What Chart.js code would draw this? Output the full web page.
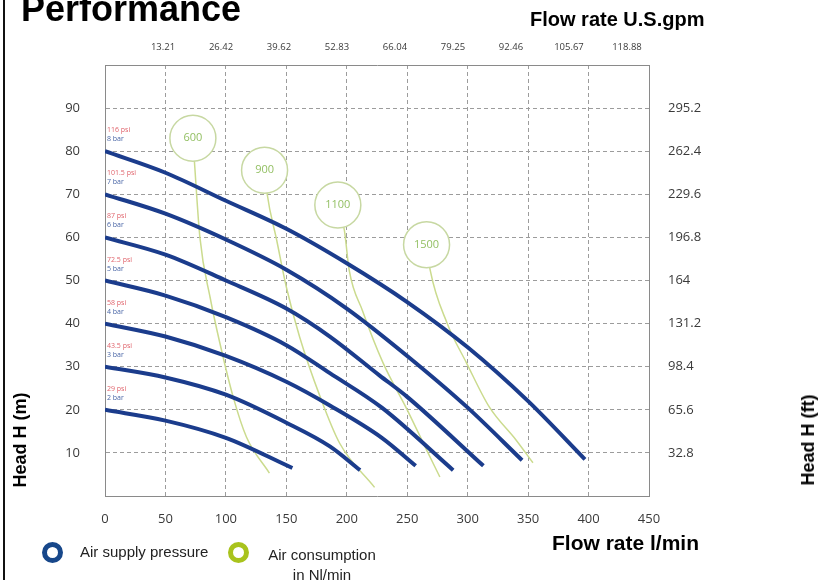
<!DOCTYPE html>
<html><head><meta charset="utf-8">
<script src="https://cdn.jsdelivr.net/npm/chart.js@4.4.1/dist/chart.umd.min.js"></script>
<style>
html,body{margin:0;padding:0;background:#fff;}
body{width:826px;height:580px;overflow:hidden;position:relative;font-family:'Liberation Sans',Arial,sans-serif;}
#c{position:absolute;left:0;top:0;}
.t{position:absolute;white-space:nowrap;color:#000;}
.rot{transform:translate(-50%,-50%) rotate(-90deg);}
.ring{position:absolute;box-sizing:border-box;width:21px;height:21px;border-radius:50%;border-style:solid;border-width:5px;}
</style></head><body>
<canvas id="c" width="826" height="580"></canvas>
<div style="position:absolute;left:3px;top:0;width:2px;height:580px;background:#111"></div>
<div class="t" style="left:21px;top:-9px;font:bold 36px/36px 'Liberation Sans',Arial,sans-serif;">Performance</div>
<div class="t" style="left:530px;top:9px;font:bold 20px/20px 'Liberation Sans',Arial,sans-serif;">Flow rate U.S.gpm</div>
<div class="t" style="left:552px;top:532px;font:bold 21px/21px 'Liberation Sans',Arial,sans-serif;">Flow rate l/min</div>
<div class="t rot" style="left:20px;top:440px;font:bold 18px/18px 'Liberation Sans',Arial,sans-serif;">Head H (m)</div>
<div class="t rot" style="left:808px;top:440px;font:bold 18px/18px 'Liberation Sans',Arial,sans-serif;">Head H (ft)</div>
<div class="ring" style="left:42px;top:542px;border-color:#17478a;"></div>
<div class="t" style="left:80px;top:544px;font:15px/15px 'Liberation Sans',Arial,sans-serif;color:#222;">Air supply pressure</div>
<div class="ring" style="left:228px;top:542px;border-color:#a9c31d;"></div>
<div class="t" style="left:252px;width:140px;text-align:center;top:545px;font:15px/20px 'Liberation Sans',Arial,sans-serif;color:#222;">Air consumption<br>in Nl/min</div>
<script>
// ---- tick labels ----
const flowTicks = [0, 50, 100, 150, 200, 250, 300, 350, 400, 450];          // l/min
const gpmTicks = [13.21, 26.42, 39.62, 52.83, 66.04, 79.25, 92.46, 105.67, 118.88]; // U.S. gpm
const headTicks = [10, 20, 30, 40, 50, 60, 70, 80, 90];                     // m
const feetTicks = [32.8, 65.6, 98.4, 131.2, 164, 196.8, 229.6, 262.4, 295.2]; // ft

// ---- pressure curves (flow l/min, head m) ----
const bar8Flow = [0, 50, 100, 150, 200, 250, 300, 350, 397];
const bar8Head = [80, 75, 68.5, 62, 54, 45, 34.5, 22, 8.5];
const bar7Flow = [0, 50, 100, 150, 200, 250, 300, 345];
const bar7Head = [70, 65.5, 59.5, 52.5, 43.5, 32.5, 20.5, 8.3];
const bar6Flow = [0, 50, 100, 150, 186, 227, 250, 313];
const bar6Head = [60, 56, 50, 43.5, 37, 28, 23, 7];
const bar5Flow = [0, 50, 100, 150, 186, 229, 288];
const bar5Head = [50, 46.5, 41.5, 35, 28.5, 20.5, 6];
const bar4Flow = [0, 50, 100, 150, 186, 229, 257];
const bar4Head = [40, 37, 32.5, 26.5, 21, 13.5, 7];
const bar3Flow = [0, 50, 100, 150, 186, 211];
const bar3Head = [30, 27.5, 23.5, 17, 11.5, 6];
const bar2Flow = [0, 50, 100, 155];
const bar2Head = [20, 17.5, 13.5, 6.5];
const psiLabels = ['116 psi', '101.5 psi', '87 psi', '72.5 psi', '58 psi', '43.5 psi', '29 psi'];
const barLabels = ['8 bar', '7 bar', '6 bar', '5 bar', '4 bar', '3 bar', '2 bar'];

// ---- air consumption lines (Nl/min) ----
const air600Flow = [72.7, 74, 78.5, 87, 95, 106, 117, 136];
const air600Head = [83, 77.5, 60, 46, 35.5, 23, 13.7, 5.3];
const air900Flow = [132, 134, 142, 150, 161, 178, 194, 223];
const air900Head = [75.6, 70.3, 59.4, 48.5, 36.9, 23, 12.3, 2];
const air1100Flow = [192.6, 198, 202, 213, 230, 250, 266, 277];
const air1100Head = [67.5, 61.7, 52.4, 43, 30.9, 20, 10.7, 4.4];
const air1500Flow = [266, 269, 283, 299, 318, 340, 354];
const air1500Head = [58.3, 52.4, 40.1, 30.9, 20.6, 13, 7.7];
const circleFlow = [72.7, 132, 192.6, 266];
const circleHead = [83, 75.6, 67.5, 58.3];
const circleLabels = ['600', '900', '1100', '1500'];

const pts = (xs, ys) => xs.map((v, i) => ({x: v, y: ys[i]}));
const pressure = [[bar8Flow, bar8Head], [bar7Flow, bar7Head], [bar6Flow, bar6Head], [bar5Flow, bar5Head],
                  [bar4Flow, bar4Head], [bar3Flow, bar3Head], [bar2Flow, bar2Head]];
const air = [[air600Flow, air600Head], [air900Flow, air900Head], [air1100Flow, air1100Head], [air1500Flow, air1500Head]];

// Chart.js paints lower "order" on top: circles (0) > pressure (1) > air (2)
const datasets = [];
datasets.push({
  data: pts(circleFlow, circleHead), showLine: false, pointRadius: 23, order: 0,
  pointBackgroundColor: '#ffffff', pointBorderColor: '#c7d8a2', pointBorderWidth: 1.5
});
pressure.forEach(([f, h]) => datasets.push({
  data: pts(f, h), borderColor: '#1b3c8c', borderWidth: 4, pointRadius: 0, order: 1,
  tension: 0.4, cubicInterpolationMode: 'monotone', fill: false, borderCapStyle: 'butt'
}));
air.forEach(([f, h]) => datasets.push({
  data: pts(f, h), borderColor: '#cbdb8e', borderWidth: 1.5, pointRadius: 0, order: 2,
  tension: 0.4, cubicInterpolationMode: 'monotone', fill: false
}));

const annot = {
  id: 'annot',
  afterDatasetsDraw(chart) {
    const {ctx, scales: {x, y}} = chart;
    ctx.save();
    ctx.textBaseline = 'middle';
    ctx.textAlign = 'left';
    ctx.font = "7px 'Open Sans', sans-serif";
    pressure.forEach(([f, h], i) => {
      const px = x.getPixelForValue(f[0]) + 2;
      const py = y.getPixelForValue(h[0]);
      ctx.fillStyle = '#e0646c';
      ctx.fillText(psiLabels[i], px, py - 21);
      ctx.fillStyle = '#4a66a6';
      ctx.fillText(barLabels[i], px, py - 12);
    });
    ctx.textAlign = 'center';
    ctx.font = "11px 'Open Sans', sans-serif";
    ctx.fillStyle = '#92bf62';
    circleLabels.forEach((t, i) => ctx.fillText(t, x.getPixelForValue(circleFlow[i]), y.getPixelForValue(circleHead[i])));
    ctx.restore();
  }
};

const tickFont = {family: "'Open Sans', sans-serif", size: 13};
new Chart(document.getElementById('c'), {
  type: 'line',
  data: {datasets},
  options: {
    responsive: false, animation: false, devicePixelRatio: 1,
    layout: {padding: 0},
    plugins: {legend: {display: false}, tooltip: {enabled: false}},
    scales: {
      x: {
        type: 'linear', position: 'bottom', min: 0, max: 450,
        afterBuildTicks: s => { s.ticks = flowTicks.map(v => ({value: v})); },
        afterFit: s => { s.height = 84; },
        grid: {color: '#9c9c9c', drawTicks: false, lineWidth: 1},
        border: {display: true, color: '#8a8a8a', width: 1, dash: [4, 3]},
        ticks: {padding: 15, color: '#3a3a3a', font: tickFont, maxRotation: 0, autoSkip: false, callback: v => String(v)}
      },
      xTop: {
        type: 'linear', position: 'top', min: 0, max: 123.9,
        afterBuildTicks: s => { s.ticks = gpmTicks.map(v => ({value: v})); },
        afterFit: s => { s.height = 65; },
        grid: {drawOnChartArea: false, drawTicks: false},
        border: {display: true, color: '#8a8a8a', width: 1},
        ticks: {padding: 12, color: '#3a3a3a', font: {family: "'Open Sans', sans-serif", size: 9.5}, maxRotation: 0, autoSkip: false, callback: v => String(v)}
      },
      y: {
        type: 'linear', position: 'left', min: 0, max: 100,
        afterBuildTicks: s => { s.ticks = headTicks.map(v => ({value: v})); },
        afterFit: s => { s.width = 105; },
        grid: {color: '#9c9c9c', drawTicks: false, lineWidth: 1},
        border: {display: true, color: '#8a8a8a', width: 1, dash: [4, 3]},
        ticks: {padding: 25, color: '#3a3a3a', font: tickFont, autoSkip: false, callback: v => String(v)}
      },
      yRight: {
        type: 'linear', position: 'right', min: 0, max: 328,
        afterBuildTicks: s => { s.ticks = feetTicks.map(v => ({value: v})); },
        afterFit: s => { s.width = 177; },
        grid: {drawOnChartArea: false, drawTicks: false},
        border: {display: true, color: '#8a8a8a', width: 1},
        ticks: {padding: 19, color: '#3a3a3a', font: tickFont, autoSkip: false, callback: v => String(v)}
      }
    }
  },
  plugins: [annot]
});
</script>
</body></html>
